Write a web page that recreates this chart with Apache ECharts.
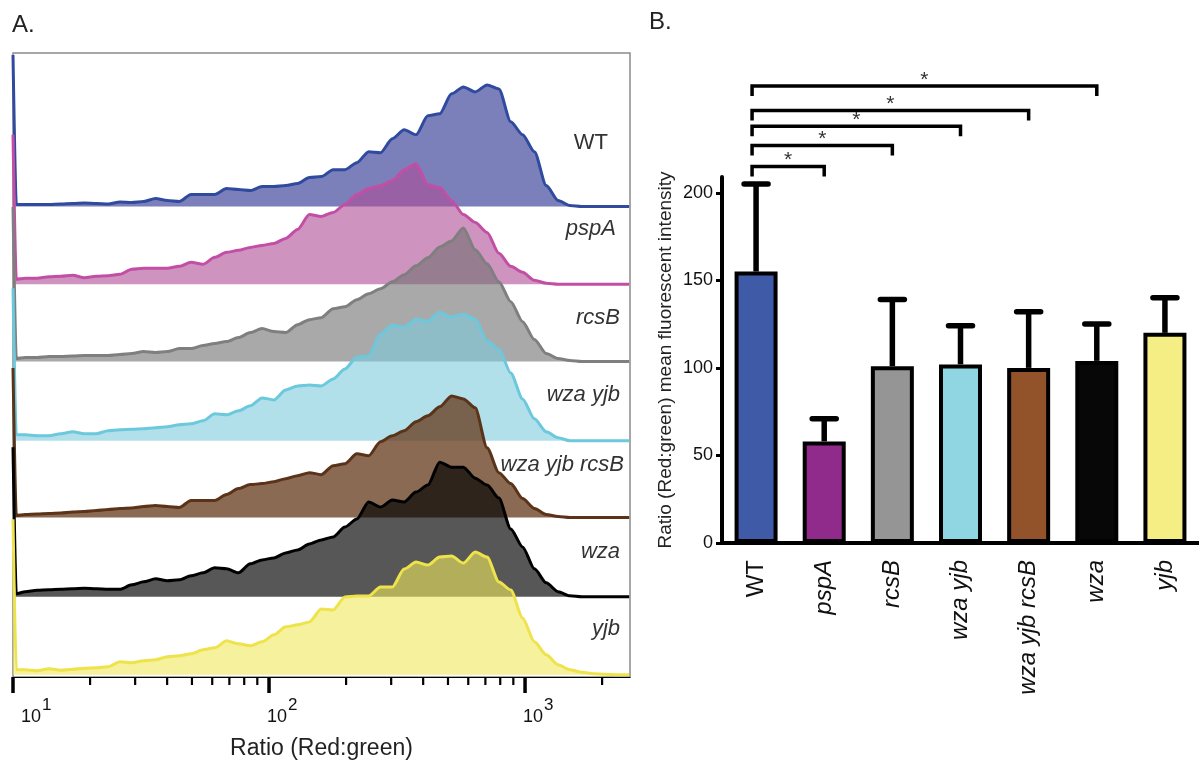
<!DOCTYPE html>
<html>
<head>
<meta charset="utf-8">
<script src="https://cdn.jsdelivr.net/npm/echarts@6/dist/echarts.min.js"></script>
<style>
  html, body { margin: 0; padding: 0; background: #fff; }
  #chart { width: 1199px; height: 765px; }
</style>
</head>
<body>
<div id="chart"></div>
<script>
// ---- Panel A: ratio histograms, one row per strain ----
const strains = ["WT", "pspA", "rcsB", "wza yjb", "wza yjb rcsB", "wza", "yjb"];

// log-spaced ratio bins (first bin is the pile-up at the lower limit)
const ratioBins = [10, 10.3, 11.16, 12.42, 13.81, 15.37, 17.1, 19.01, 21.15, 23.53, 26.17,
  29.11, 32.39, 36.03, 40.08, 44.58, 49.59, 55.17, 61.37, 68.27, 75.94,
  84.47, 93.94, 104.5, 116.2, 129.3, 143.8, 160, 178, 198, 220.3,
  245, 272.5, 303.1, 337.2, 375.1, 417.2, 464.1, 516.3, 574.2, 638.8,
  710.7, 790.5, 879.3, 978, 1088, 1210, 1346, 1497, 1666, 1853,
  2061, 2293, 2551];

const countsWT = [152, 2, 2, 2, 2, 2.5, 3, 3.5, 3, 2.5, 4.5,
  4, 5, 8, 6, 5, 12, 12, 12, 18, 17,
  16, 20, 20, 21, 23, 29, 30, 37, 37, 44,
  55, 54, 68, 77, 72, 91, 93, 113, 120, 115,
  122, 118, 85, 72, 55, 21, 6, 1, 0, 0,
  0, 0, 0];
const countsPspA = [150, 5, 6, 6, 7.5, 8, 9, 6.5, 8, 8.5, 10,
  15, 16, 16, 16, 18, 22, 20, 27, 32, 34,
  37, 39, 41, 46, 55, 70, 68, 72, 80, 90,
  96, 99, 104, 115, 121, 100, 97, 84, 70, 62,
  52, 31, 18, 12, 4, 1, 0, 0, 0, 0,
  0, 0, 0];
const countsRcsB = [155, 3, 4, 4, 5, 5, 5.5, 6, 6, 6, 7,
  8, 10, 9, 10, 13, 13, 16, 18, 20, 24,
  29, 33, 30, 29, 37, 42, 44, 53, 55, 62,
  68, 73, 80, 87, 96, 104, 115, 121, 134, 112,
  98, 80, 60, 40, 22, 8, 3, 1, 0, 0,
  0, 0, 0];
const countsWzaYjb = [153, 6, 6, 5, 5, 7, 9, 7, 7, 10, 11,
  11.5, 12, 13, 14, 16, 17, 20, 27, 26, 30,
  35, 43, 41, 51, 55, 56, 55, 62, 72, 84,
  85, 107, 116, 114, 122, 120, 129, 124, 127, 122,
  100, 92, 68, 42, 22, 9, 3, 0, 0, 0,
  0, 0, 0];
const countsWzaYjbRcsB = [150, 2, 3, 3.5, 4, 4.5, 5.5, 6, 7, 8, 9,
  9.5, 11, 12, 11, 10, 17, 17, 17, 23, 29,
  33, 34, 36, 39, 42, 45, 43, 52, 54, 64,
  62, 76, 82, 87, 96, 102, 111, 122, 119, 110,
  70, 45, 34, 19, 9, 3, 1, 0, 0, 0,
  0, 0, 0];
const countsWza = [150, 3, 5, 6.5, 7, 7.5, 8, 8.5, 8, 7.5, 7.5,
  12, 15, 18, 16, 17, 21, 24, 29, 28, 24,
  33, 37, 39, 44, 47, 53, 57, 60, 70, 78,
  95, 90, 97, 95, 105, 112, 135, 130, 130, 119,
  112, 99, 68, 50, 28, 14, 5, 1, 0, 0,
  0, 0, 0];
const countsYjb = [156, 5, 5, 4, 6, 4.5, 5.5, 6.5, 7, 8, 13,
  12, 14, 15, 18, 19, 21, 25, 27, 34, 31,
  29, 33, 40, 48, 50, 53, 66, 65, 78, 79,
  79, 88, 88, 106, 113, 110, 118, 119, 112, 123,
  118, 93, 85, 57, 33, 20, 10, 5, 2.5, 1,
  0.5, 0, 0];

const histCounts = [countsWT, countsPspA, countsRcsB, countsWzaYjb, countsWzaYjbRcsB, countsWza, countsYjb];

const majorTicks = [10, 100, 1000];
const minorTicks = [20, 30, 40, 50, 60, 70, 80, 90, 200, 300, 400, 500, 600, 700, 800, 900, 2000];

// ---- Panel B: mean ratio per strain ----
const meanRatio = [155, 58, 101, 102, 100, 104, 120];
const errRatio = [50, 13, 38, 22, 32, 21, 20];
const sigPairs = [[0, 1], [0, 2], [0, 3], [0, 4], [0, 5]];
const sigLevels = [215, 227, 238, 247, 261];

// layout / styling
const rowOffsets = [472, 394, 316.5, 237, 160, 80.5, 2.3];
const lineColors = ["#2f4a9e", "#c24fa5", "#7f7f7f", "#6cc8dc", "#5a3318", "#000000", "#eee34a"];
const fillColors = ["rgba(35,43,142,0.6)", "rgba(175,75,150,0.6)", "rgba(112,112,112,0.6)",
  "rgba(127,203,220,0.6)", "rgba(100,56,26,0.75)", "rgba(0,0,0,0.66)", "rgba(240,232,90,0.6)"];
const barColors = ["#3f5ba8", "#902b8c", "#959595", "#90d5e2", "#92532a", "#070707", "#f5ee85"];
const rowLabelPos = [[608, 143], [616, 229], [620, 318], [620, 395], [624, 465], [620, 552], [620, 629]];

const FONT = '"Liberation Sans", Arial, Helvetica, sans-serif';

const chart = echarts.init(document.getElementById("chart"));

const histSeries = strains.map((name, i) => ({
  type: "line",
  name: name,
  xAxisIndex: 0,
  yAxisIndex: 0,
  data: ratioBins.map((x, j) => [x, rowOffsets[i] + histCounts[i][j]]),
  symbol: "none",
  smooth: 0.25,
  smoothMonotone: "x",
  lineStyle: { color: lineColors[i], width: 3, join: "round" },
  areaStyle: { color: fillColors[i], origin: rowOffsets[i], opacity: 1 },
  silent: true,
  z: 2,
}));

const option = {
  animation: false,
  textStyle: { fontFamily: FONT },
  grid: [
    { left: 13, top: 53, width: 617, height: 626, show: true, borderColor: "#8a8a8a", borderWidth: 1.5 },
    { left: 722, top: 177, width: 485, height: 366 },
  ],
  xAxis: [
    {
      type: "log",
      logBase: 10,
      gridIndex: 0,
      min: 10,
      max: 2570,
      axisLine: { show: true, lineStyle: { color: "#000", width: 1.2 } },
      axisTick: { show: false },
      splitLine: { show: false },
      axisLabel: { show: false },
      name: "Ratio (Red:green)",
      nameLocation: "middle",
      nameGap: 60,
      nameTextStyle: { fontSize: 23, color: "#222" },
    },
    {
      type: "category",
      gridIndex: 1,
      data: strains,
      axisLine: { lineStyle: { color: "#000", width: 4 } },
      axisTick: { alignWithLabel: true, length: 8, lineStyle: { color: "#000", width: 3 } },
      axisLabel: {
        rotate: 90,
        margin: 17,
        interval: 0,
        formatter: (v) => (v === "WT" ? "{n|" + v + "}" : "{i|" + v + "}"),
        rich: {
          n: { fontSize: 24, fontStyle: "normal", color: "#111" },
          i: { fontSize: 24, fontStyle: "italic", color: "#111" },
        },
      },
    },
  ],
  yAxis: [
    { type: "value", gridIndex: 0, min: 0, max: 626, show: false },
    {
      type: "value",
      gridIndex: 1,
      min: 0,
      max: 209,
      interval: 50,
      axisLine: { show: true, lineStyle: { color: "#000", width: 4 } },
      axisTick: { show: true, length: 6, lineStyle: { color: "#000", width: 3 }, customValues: [0, 50, 100, 150, 200] },
      splitLine: { show: false },
      axisLabel: {
        fontSize: 18,
        color: "#111",
        margin: 9,
        customValues: [0, 50, 100, 150, 200],
        formatter: (v) => (v % 50 === 0 ? String(v) : ""),
      },
      name: "Ratio (Red:green) mean fluorescent intensity",
      nameLocation: "middle",
      nameGap: 47,
      nameTextStyle: { fontSize: 19, color: "#222" },
    },
  ],
  series: [
    ...histSeries,
    {
      // log-axis ticks and decade labels (10^n)
      type: "custom",
      xAxisIndex: 0,
      yAxisIndex: 0,
      silent: true,
      z: 5,
      data: majorTicks.map((v) => [v, 1]).concat(minorTicks.map((v) => [v, 0])),
      renderItem: (params, api) => {
        const v = api.value(0);
        const p = api.coord([v, 0]);
        const major = api.value(1) === 1;
        const tick = {
          type: "line",
          shape: { x1: p[0], y1: p[1], x2: p[0], y2: p[1] + (major ? 16 : 8) },
          style: { stroke: "#000", lineWidth: major ? 3.5 : 2.2 },
        };
        if (!major) return tick;
        const e = Math.round(Math.log10(v));
        const x0 = p[0] + (e === 1 ? 8 : -2);
        return {
          type: "group",
          children: [
            tick,
            { type: "text", x: x0, y: p[1] + 40, style: { text: "10", fontSize: 18, fontFamily: FONT, fill: "#111", align: "left", verticalAlign: "middle" } },
            { type: "text", x: x0 + 21, y: p[1] + 28, style: { text: String(e), fontSize: 17, fontFamily: FONT, fill: "#111", align: "left", verticalAlign: "middle" } },
          ],
        };
      },
    },
    {
      type: "bar",
      xAxisIndex: 1,
      yAxisIndex: 1,
      barWidth: 43,
      data: meanRatio.map((v, i) => ({ value: v, itemStyle: { color: barColors[i] } })),
      itemStyle: { borderColor: "#000", borderWidth: 4 },
      silent: true,
      z: 2,
    },
    {
      // error bars (upper only)
      type: "custom",
      xAxisIndex: 1,
      yAxisIndex: 1,
      silent: true,
      z: 3,
      encode: { x: 0, y: [1, 2] },
      data: meanRatio.map((m, i) => [i, m, m + errRatio[i]]),
      renderItem: (params, api) => {
        const base = api.coord([api.value(0), api.value(1)]);
        const top = api.coord([api.value(0), api.value(2)]);
        return {
          type: "group",
          children: [
            { type: "line", shape: { x1: base[0], y1: base[1], x2: top[0], y2: top[1] }, style: { stroke: "#000", lineWidth: 5.5 } },
            { type: "line", shape: { x1: top[0] - 12, y1: top[1], x2: top[0] + 12, y2: top[1] }, style: { stroke: "#000", lineWidth: 5.5, lineCap: "round" } },
          ],
        };
      },
    },
    {
      // significance brackets
      type: "custom",
      xAxisIndex: 1,
      yAxisIndex: 1,
      silent: true,
      z: 3,
      encode: { x: [0, 1], y: 2 },
      data: sigPairs.map((p, k) => [p[0], p[1], sigLevels[k]]),
      renderItem: (params, api) => {
        const a = api.coord([api.value(0), api.value(2)]);
        const b = api.coord([api.value(1), api.value(2)]);
        const xl = a[0] - 4;
        const xr = b[0];
        return {
          type: "group",
          children: [
            {
              type: "polyline",
              shape: { points: [[xl, a[1] + 10], [xl, a[1]], [xr, b[1]], [xr, b[1] + 10]] },
              style: { stroke: "#000", lineWidth: 3.5, fill: null, lineJoin: "miter" },
            },
            {
              type: "text",
              x: (xl + xr) / 2,
              y: a[1] - 6,
              style: { text: "*", fontSize: 21, fontFamily: FONT, fill: "#333", align: "center", verticalAlign: "middle" },
            },
          ],
        };
      },
    },
  ],
  graphic: [
    { type: "text", x: 12, y: 25, style: { text: "A.", fontSize: 24, fontFamily: FONT, fill: "#222", verticalAlign: "middle" } },
    { type: "text", x: 649, y: 22, style: { text: "B.", fontSize: 24, fontFamily: FONT, fill: "#222", verticalAlign: "middle" } },
    ...strains.map((name, i) => ({
      type: "text",
      x: rowLabelPos[i][0],
      y: rowLabelPos[i][1],
      z: 10,
      style: {
        text: name,
        fontSize: 22,
        fontFamily: FONT,
        fontStyle: name === "WT" ? "normal" : "italic",
        fill: "#333",
        align: "right",
        verticalAlign: "middle",
      },
    })),
  ],
};

chart.setOption(option);
</script>
</body>
</html>
